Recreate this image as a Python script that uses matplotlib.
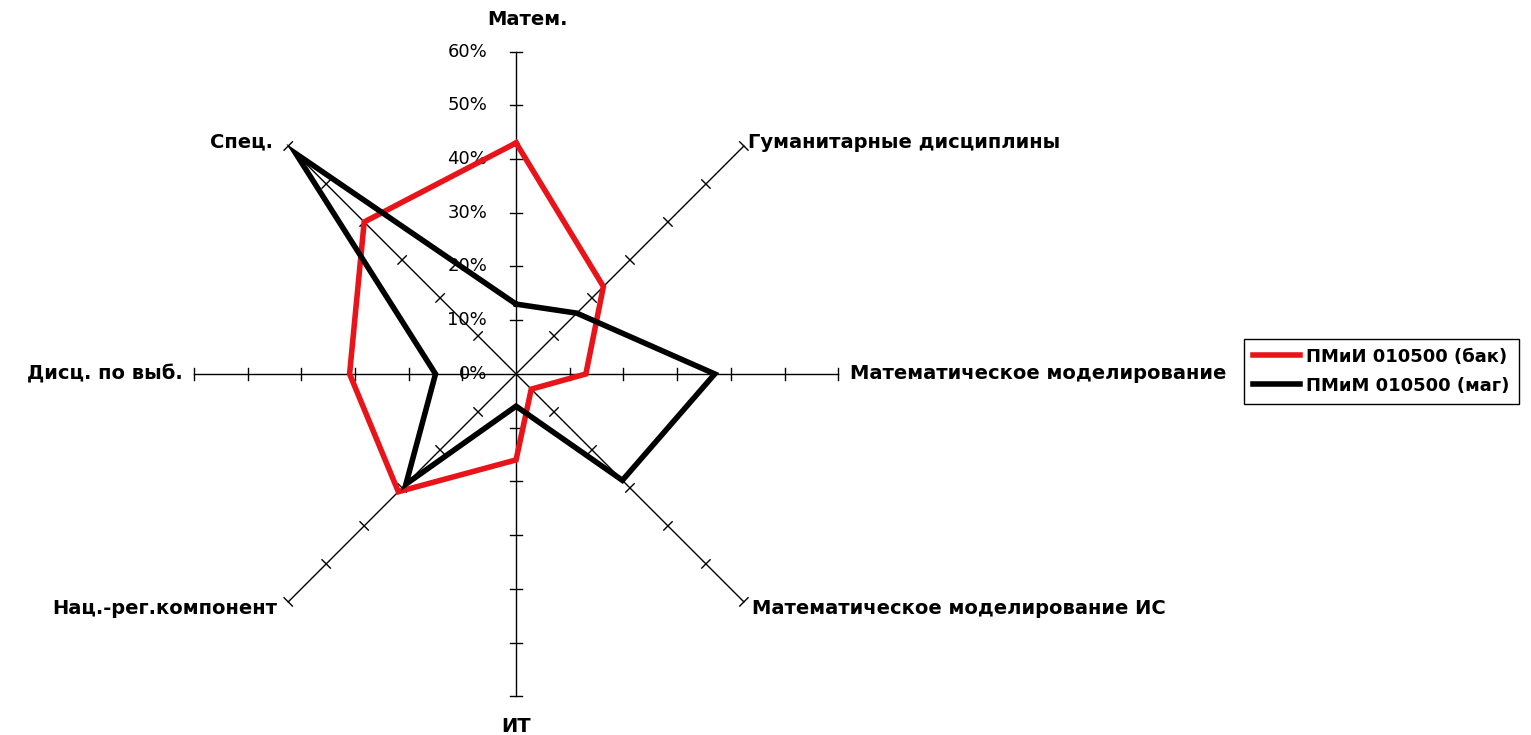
import numpy as np
import matplotlib
matplotlib.use("Agg")
import matplotlib.pyplot as plt

categories = ["Матем.", "Гуманитарные дисциплины", "Математическое моделирование",
              "Математическое моделирование ИС", "ИТ", "Нац.-рег.компонент",
              "Дисц. по выб.", "Спец."]
bak = [0.43, 0.23, 0.13, 0.04, 0.16, 0.31, 0.31, 0.40]
mag = [0.13, 0.16, 0.37, 0.28, 0.06, 0.29, 0.15, 0.58]
series_names = ["ПМиИ 010500 (бак)", "ПМиМ 010500 (маг)"]
ticks = [0.0, 0.1, 0.2, 0.3, 0.4, 0.5, 0.6]
tick_labels = ["0%", "10%", "20%", "30%", "40%", "50%", "60%"]

plt.rcParams["font.family"] = ["DejaVu Sans"]

fig = plt.figure(figsize=(15.31, 7.35), dpi=100)
ax = fig.add_axes([0, 0, 1, 1])
ax.set_xlim(-0.961, 1.890)
ax.set_ylim(-0.672, 0.696)
ax.axis("off")

n = len(categories)
# clockwise from the top
angles = np.pi / 2 - np.arange(n) * 2 * np.pi / n
rmax = ticks[-1]
tlen = 0.011

for i, a in enumerate(angles):
    ux, uy = np.cos(a), np.sin(a)
    ax.plot([0, rmax * ux], [0, rmax * uy], color="black", lw=1, zorder=1)
    # cross ticks every 10%
    for t in ticks[1:]:
        px, py = t * ux, t * uy
        ax.plot([px - tlen * uy, px + tlen * uy], [py + tlen * ux, py - tlen * ux],
                color="black", lw=1, zorder=1)

# value labels on the vertical axis
for t, lab in zip(ticks, tick_labels):
    ax.text(-0.054, t, lab, ha="right", va="center", fontsize=13)

# category labels at the axis ends
label_pos = {
    0: dict(ha="center", va="center", dx=0.022, dy=0.060),
    1: dict(ha="left", va="center", dx=0.008, dy=0.007),
    2: dict(ha="left", va="center", dx=0.022, dy=0.0),
    3: dict(ha="left", va="center", dx=0.015, dy=-0.013),
    4: dict(ha="center", va="center", dx=0.0, dy=-0.057),
    5: dict(ha="right", va="center", dx=-0.020, dy=-0.013),
    6: dict(ha="right", va="center", dx=-0.020, dy=0.0),
    7: dict(ha="right", va="center", dx=-0.028, dy=0.007),
}
for i, (cat, a) in enumerate(zip(categories, angles)):
    p = label_pos[i]
    ax.text(rmax * np.cos(a) + p["dx"], rmax * np.sin(a) + p["dy"], cat,
            ha=p["ha"], va=p["va"], fontsize=14, fontweight="bold", zorder=2)

for vals, color, name in [(bak, "#e8141a", series_names[0]), (mag, "black", series_names[1])]:
    v = np.array(vals + vals[:1])
    a = np.concatenate([angles, angles[:1]])
    ax.plot(v * np.cos(a), v * np.sin(a), color=color, lw=4, label=name,
            solid_joinstyle="miter", zorder=3)

leg = ax.legend(loc="center left", bbox_to_anchor=(0.8125, 0.495),
                bbox_transform=fig.transFigure, frameon=True,
                prop={"size": 13, "weight": "bold"},
                fancybox=False, framealpha=1, edgecolor="black",
                handlelength=2.6, handletextpad=0.35, borderpad=0.5,
                labelspacing=0.6, borderaxespad=0)
leg.get_frame().set_linewidth(1)
leg.set_zorder(5)

fig.savefig("out.png", dpi=100)
